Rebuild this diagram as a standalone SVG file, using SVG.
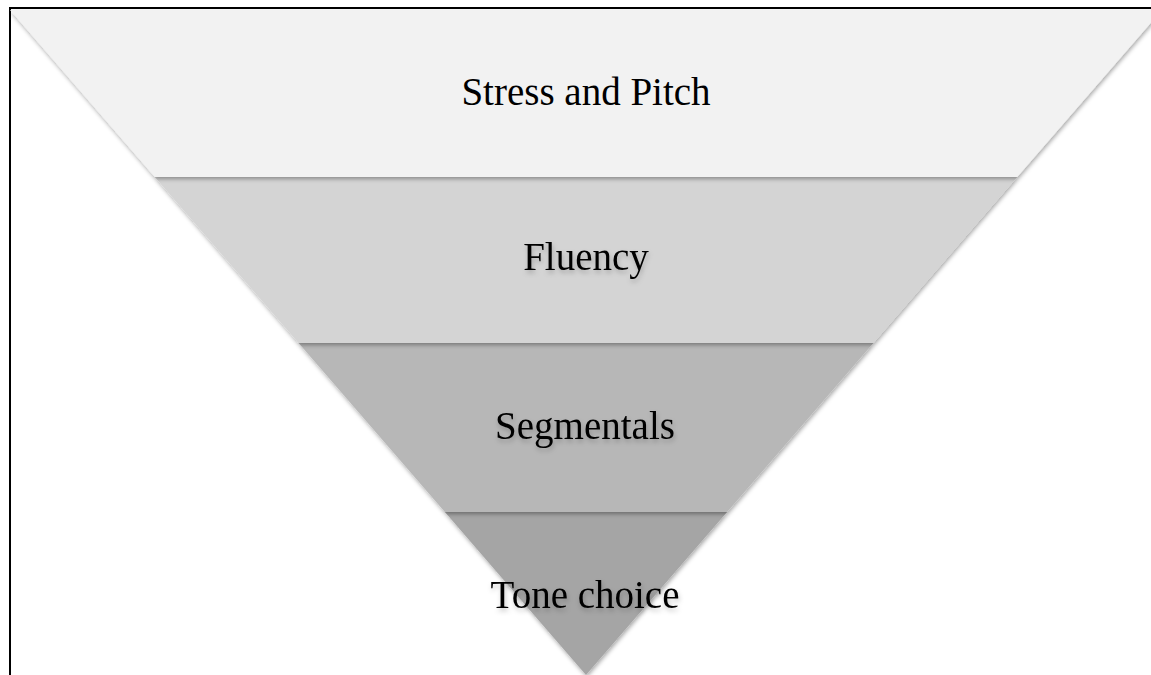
<svg xmlns="http://www.w3.org/2000/svg" width="1151" height="675" viewBox="0 0 1151 675">
  <style>
    .lbl { font-family: "Liberation Serif", "DejaVu Serif", serif; font-size: 39px; fill: #000; text-anchor: middle; }
  </style>
  <defs>
    <filter id="bandShadow" x="-5%" y="-10%" width="110%" height="130%">
      <feDropShadow dx="1" dy="2" stdDeviation="2" flood-color="#000" flood-opacity="0.35"/>
    </filter>
    <filter id="txtShadow" x="-10%" y="-30%" width="120%" height="180%">
      <feDropShadow dx="1" dy="3" stdDeviation="2.5" flood-color="#000" flood-opacity="0.22"/>
    </filter>
  </defs>
  <rect x="0" y="0" width="1151" height="675" fill="#ffffff"/>
  <path d="M10 675 V8 H1151" fill="none" stroke="#000" stroke-width="2"/>
  <g id="band4">
    <polygon points="444.9,512 727.1,512 586,675" fill="#a5a5a5" filter="url(#bandShadow)"/>
  </g>
  <g id="band3">
    <polygon points="298.6,343 873.4,343 727.1,512 444.9,512" fill="#b7b7b7" filter="url(#bandShadow)"/>
  </g>
  <g id="band2">
    <polygon points="154.8,177 1017.2,177 873.4,343 298.6,343" fill="#d4d4d4" filter="url(#bandShadow)"/>
  </g>
  <g id="band1">
    <polygon points="10,10 1162,10 1017.2,177 154.8,177" fill="#f2f2f2" filter="url(#bandShadow)"/>
  </g>
  <g id="labels">
    <text class="lbl" x="586" y="105">Stress and Pitch</text>
    <text class="lbl" x="586" y="270" filter="url(#txtShadow)">Fluency</text>
    <text class="lbl" x="585" y="439" filter="url(#txtShadow)">Segmentals</text>
    <text class="lbl" x="585" y="608" filter="url(#txtShadow)">Tone choice</text>
  </g>
  <g id="connectors"/>
</svg>
